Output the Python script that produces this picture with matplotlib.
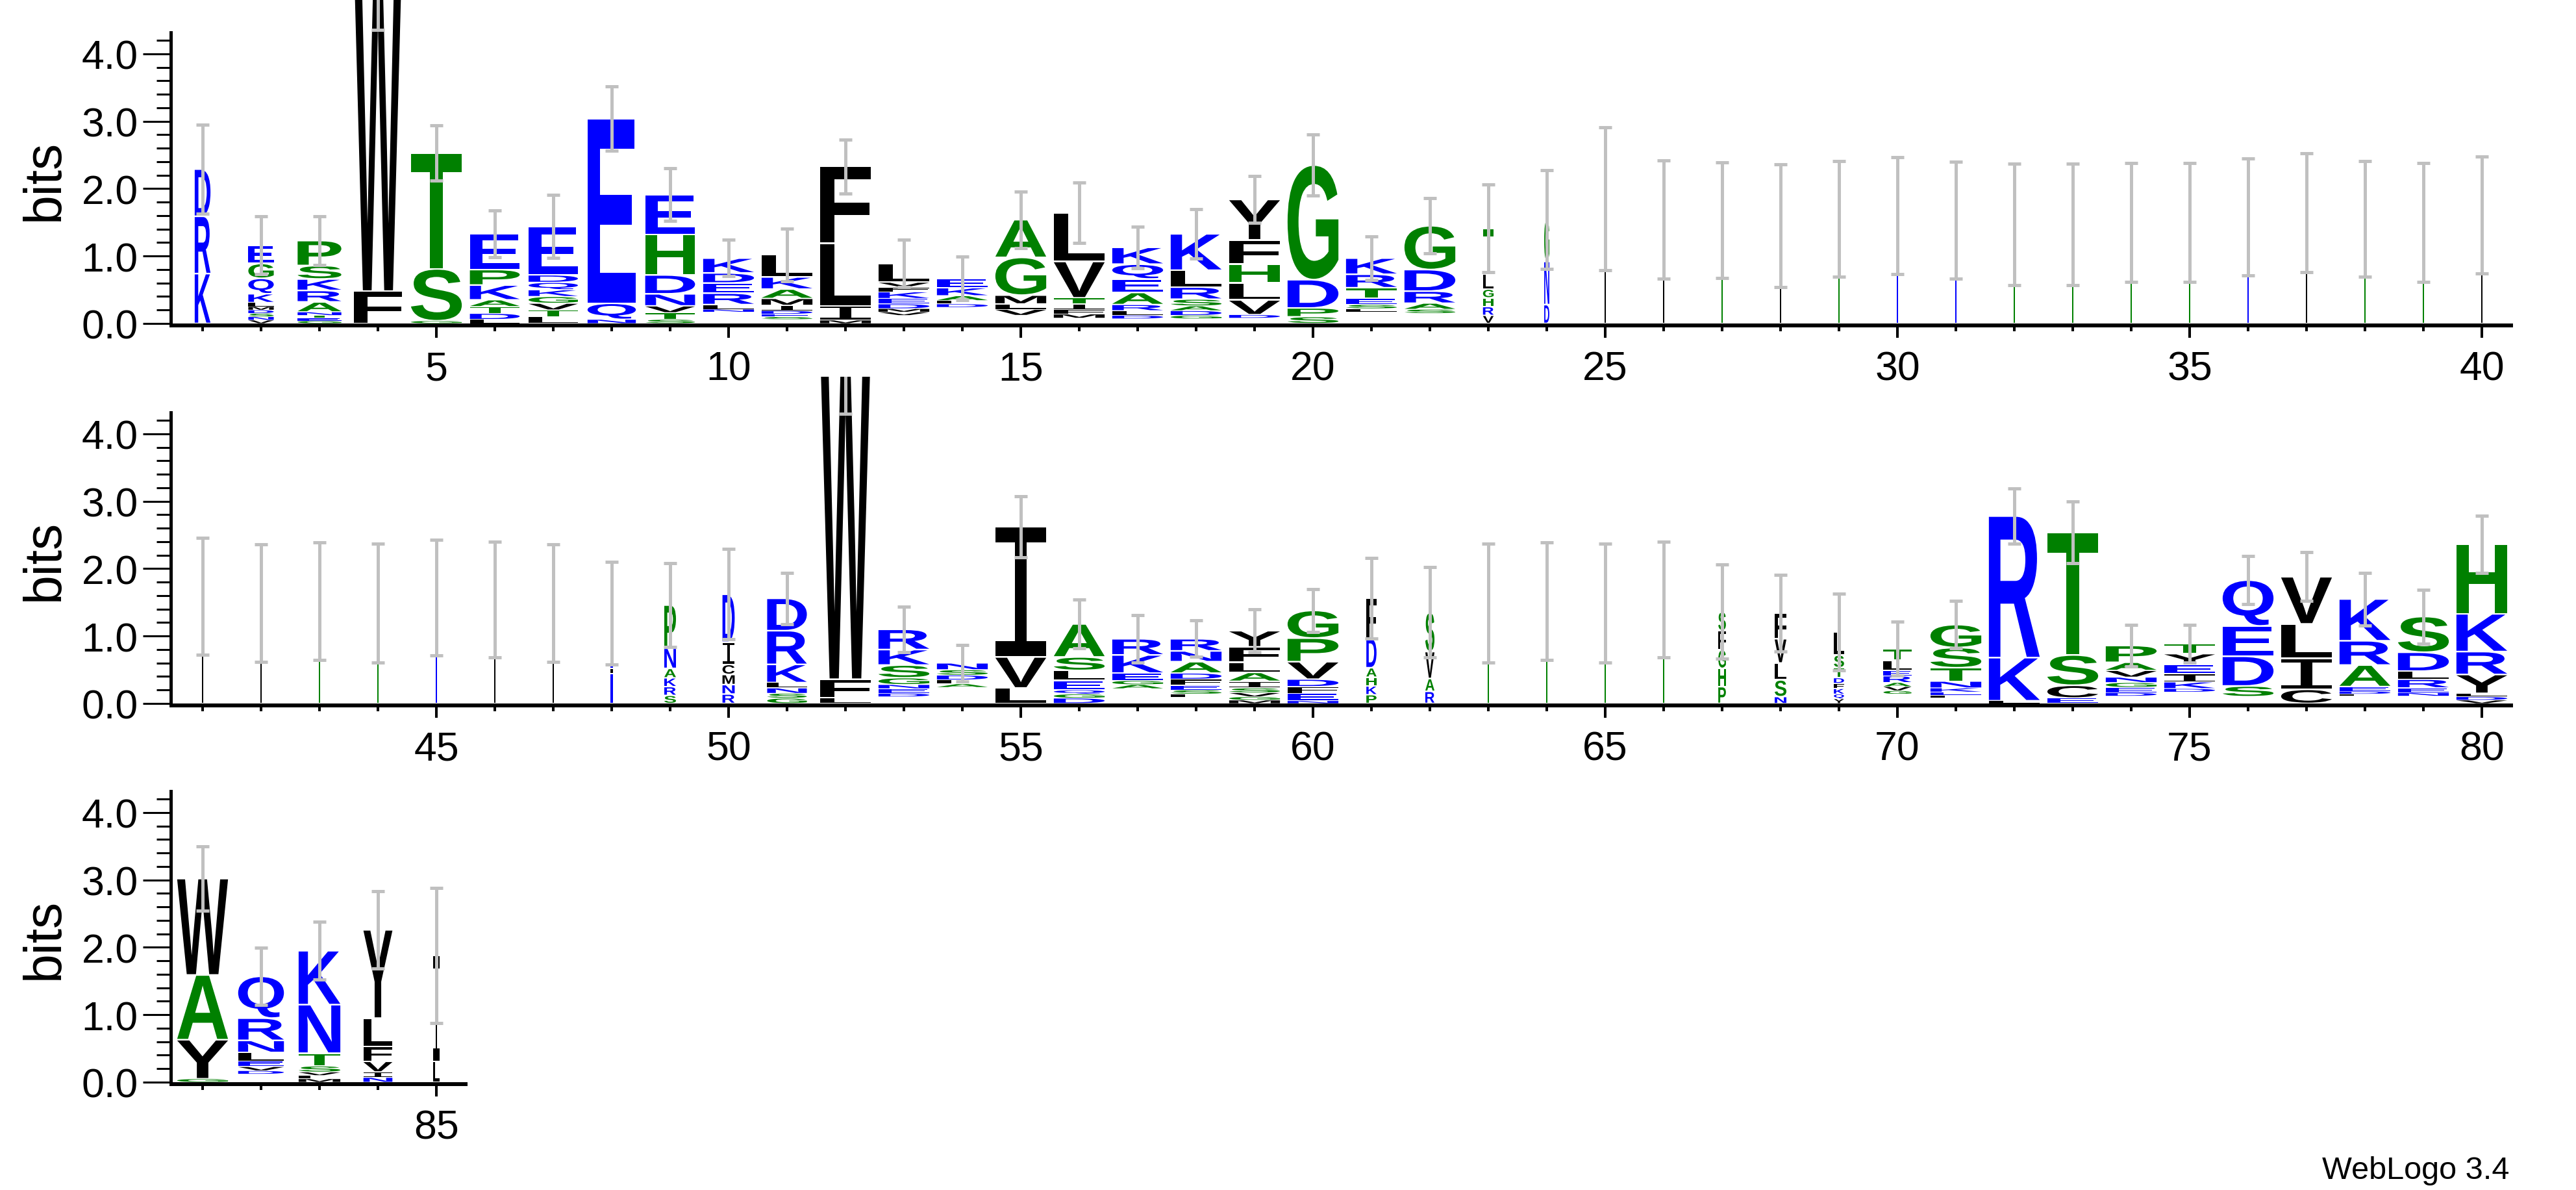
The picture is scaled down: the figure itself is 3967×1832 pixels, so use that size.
import matplotlib
matplotlib.use("Agg")
import matplotlib.pyplot as plt
from matplotlib.textpath import TextPath
from matplotlib.font_manager import FontProperties
from matplotlib.patches import PathPatch, Rectangle
from matplotlib.transforms import Affine2D
from matplotlib.ticker import FixedLocator

plt.rcParams['font.family'] = ['Liberation Sans', 'DejaVu Sans']

# ---- data: one column per position, letters listed bottom -> top, '-' = blank ----
positions = list(range(1, 86))

stack_letters = [
    "KRD", "VNSDMLKQGE", "GETNARKSP", "FW", "GST", "LDTAKPE", "LTVGKQDE", "NQE",
    "STVNDHE", "-NLREDK", "-SEDIMAKL", "MILF", "-VMDEKFVL", "-DLAKE", "-VLMGA",
    "-MFITVL", "-DLRAEQK", "-GDASRLK", "-DVLHFY", "SPDG", "-LSETRK", "-SARDG",
    "VRHGLT", "DNG", "L", "L", "G", "L", "G", "D", "D", "G", "G", "G", "G", "D",
    "L", "G", "G", "L",
    "L", "L", "G", "G", "D", "L", "L", "DLN", "SRKANP", "RNMCID", "GSNLKRD", "LFW",
    "-DENGSKR", "-ALDSN", "LVI", "DGQELSA", "-AGEKR", "-LSEFDANR", "MGVSIALFY",
    "NEFDVPG", "PKHADF", "RAVS", "G", "G", "G", "G", "PHGFS", "NSLVF", "YQKFDTSL",
    "-GVARELT", "-LEKNTSG", "LKR", "ECST", "-DEGNVAP", "-DKIEYT", "-SDEQ", "CILV",
    "-LDEARK", "-NERLDS", "VDLYRKH",
    "GYAW", "-DVELNRQ", "MLVSTNK", "NIVFLY", "LI",
]

stack_bits = [
    [0.74, 0.85, 0.70],
    [0.05, 0.05, 0.05, 0.05, 0.05, 0.06, 0.13, 0.23, 0.22, 0.27],
    [0.04, 0.04, 0.04, 0.05, 0.15, 0.17, 0.17, 0.20, 0.37],
    [0.48, 5.0],
    [0.04, 0.77, 1.72],
    [0.06, 0.09, 0.10, 0.10, 0.22, 0.23, 0.53],
    [0.10, 0.10, 0.10, 0.10, 0.10, 0.11, 0.11, 0.72],
    [0.06, 0.24, 2.74],
    [0.06, 0.10, 0.10, 0.18, 0.28, 0.60, 0.59],
    [0.17, 0.04, 0.07, 0.17, 0.15, 0.15, 0.22],
    [0.06, 0.04, 0.04, 0.05, 0.08, 0.10, 0.14, 0.18, 0.33],
    [0.05, 0.21, 0.93, 1.14],
    [0.12, 0.05, 0.05, 0.07, 0.08, 0.10, 0.07, 0.07, 0.28],
    [0.24, 0.05, 0.05, 0.07, 0.12, 0.14],
    [0.12, 0.09, 0.08, 0.13, 0.56, 0.56],
    [0.08, 0.06, 0.07, 0.08, 0.09, 0.54, 0.72],
    [0.07, 0.05, 0.07, 0.09, 0.18, 0.20, 0.22, 0.25],
    [0.07, 0.05, 0.07, 0.07, 0.10, 0.18, 0.25, 0.54],
    [0.08, 0.05, 0.22, 0.25, 0.28, 0.36, 0.60],
    [0.10, 0.13, 0.42, 1.70],
    [0.17, 0.05, 0.06, 0.09, 0.16, 0.20, 0.24],
    [0.15, 0.06, 0.09, 0.18, 0.32, 0.65],
    [0.12, 0.13, 0.13, 0.13, 0.22, 0.68],
    [0.28, 0.64, 0.62],
    [1.85], [1.54], [1.53], [1.45], [1.55], [1.60], [1.53], [1.47], [1.47],
    [1.50], [1.50], [1.58], [1.64], [1.55], [1.50], [1.61],
    [1.59], [1.49], [1.52], [1.49], [1.57], [1.54], [1.49],
    [0.45, 0.07, 0.82],
    [0.12, 0.13, 0.13, 0.14, 0.30, 0.64],
    [0.14, 0.14, 0.15, 0.15, 0.33, 0.71],
    [0.08, 0.07, 0.08, 0.08, 0.27, 0.50, 0.48],
    [0.08, 0.28, 5.0],
    [0.10, 0.05, 0.07, 0.06, 0.10, 0.19, 0.23, 0.30],
    [0.24, 0.05, 0.06, 0.07, 0.08, 0.10],
    [0.23, 0.46, 1.93],
    [0.08, 0.06, 0.06, 0.14, 0.15, 0.20, 0.49],
    [0.22, 0.06, 0.06, 0.11, 0.27, 0.24],
    [0.09, 0.05, 0.06, 0.07, 0.09, 0.09, 0.17, 0.16, 0.18],
    [0.05, 0.05, 0.06, 0.07, 0.10, 0.13, 0.15, 0.23, 0.24],
    [0.04, 0.11, 0.10, 0.11, 0.26, 0.35, 0.41],
    [0.13, 0.13, 0.13, 0.14, 0.44, 0.59],
    [0.18, 0.19, 0.40, 0.58],
    [1.49], [1.52], [1.49], [1.54],
    [0.25, 0.27, 0.28, 0.28, 0.28],
    [0.10, 0.25, 0.25, 0.36, 0.38],
    [0.07, 0.07, 0.08, 0.08, 0.08, 0.15, 0.19, 0.34],
    [0.14, 0.05, 0.06, 0.06, 0.10, 0.08, 0.15, 0.17],
    [0.08, 0.04, 0.05, 0.06, 0.10, 0.20, 0.30, 0.34],
    [0.04, 0.64, 2.10],
    [0.08, 0.19, 0.45, 1.82],
    [0.11, 0.05, 0.08, 0.07, 0.08, 0.10, 0.12, 0.25],
    [0.17, 0.05, 0.10, 0.12, 0.14, 0.16, 0.15],
    [0.10, 0.16, 0.44, 0.45, 0.68],
    [0.21, 0.46, 0.51, 0.70],
    [0.11, 0.03, 0.04, 0.07, 0.32, 0.36, 0.62],
    [0.11, 0.05, 0.07, 0.13, 0.12, 0.28, 0.53],
    [0.05, 0.05, 0.05, 0.28, 0.34, 0.56, 1.03],
    [0.05, 0.58, 0.96, 1.43],
    [0.12, 0.05, 0.06, 0.08, 0.13, 0.18, 0.33, 0.62],
    [0.05, 0.05, 0.05, 0.09, 0.19, 0.72, 0.80],
    [0.07, 0.08, 0.16, 0.22, 0.42, 1.31],
    [0.31, 1.57],
]

# fraction of full stack width (columns with many gaps are narrow)
col_width = (
    [0.31, 0.50, 0.86, 0.95, 1.0, 0.98, 0.97, 0.95, 0.98, 1.0,
     1.0, 1.0, 1.0, 1.0, 1.0, 1.0, 1.0, 1.0, 1.0, 1.0,
     1.0, 1.0, 0.21, 0.10] + [0.03] * 16 +
    [0.03] * 7 + [0.05, 0.23, 0.24, 0.78, 1.0, 1.0, 1.0, 1.0, 1.0,
                  1.0, 1.0, 1.0, 1.0, 0.20, 0.18, 0.03, 0.03, 0.03, 0.03,
                  0.15, 0.23, 0.20, 0.55, 1.0, 1.0, 1.0, 1.0, 1.0, 1.0,
                  1.0, 1.0, 1.0, 1.0] +
    [1.0, 0.90, 0.82, 0.57, 0.12]
)

err_half = [
    0.66, 0.43, 0.36, 1.13, 0.41, 0.35, 0.47, 0.48, 0.39, 0.27,
    0.39, 0.40, 0.35, 0.32, 0.42, 0.45, 0.31, 0.37, 0.35, 0.45,
    0.32, 0.41, 0.65, 0.73, 1.06, 0.88, 0.86, 0.91, 0.86, 0.87,
    0.87, 0.90, 0.90, 0.88, 0.88, 0.87, 0.88, 0.86, 0.88, 0.87,
    0.87, 0.87, 0.87, 0.88, 0.86, 0.86, 0.87, 0.76, 0.62, 0.67,
    0.38, 1.06, 0.34, 0.27, 0.45, 0.36, 0.35, 0.27, 0.32, 0.32,
    0.60, 0.67, 0.88, 0.87, 0.88, 0.86, 0.70, 0.57, 0.57, 0.40,
    0.35, 0.41, 0.46, 0.31, 0.28, 0.36, 0.36, 0.39, 0.40, 0.42,
    0.48, 0.42, 0.43, 0.57, 1.00,
]

row_ranges = [(1, 40), (41, 80), (81, 85)]

# ---- styling ----
colors = {}
for c in "RKDENQ":
    colors[c] = "#0000ff"
for c in "SGHTAP":
    colors[c] = "#008000"
for c in "YVMCLFIW":
    colors[c] = "#000000"

W_PX, H_PX = 3967, 1833
fig = plt.figure(figsize=(W_PX / 100, H_PX / 100), dpi=100)

bit_px = 103.8          # pixels per bit
pos_px = 90             # pixels per position
x0_px = 267
baselines = [499, 1084, 1667]
ymin, ymax = -0.03, 4.85
full_w = 0.87

fp = FontProperties(family='Liberation Sans', weight='bold')
fp_i = FontProperties(family='Liberation Mono', weight='normal')
cache = {}


def glyph(ch):
    if ch not in cache:
        p = TextPath((0, 0), ch, size=1, prop=fp_i if ch == 'I' else fp)
        cache[ch] = (p, p.get_extents())
    return cache[ch]


def draw_letter(ax, ch, x, y0, w, h):
    pad = min(0.012, h * 0.08)
    hh = h - 2 * pad
    if w * pos_px < 6:
        # too thin for a readable glyph: a solid sliver of the letter colour
        ax.add_patch(Rectangle((x - w / 2, y0 + pad), w, hh, facecolor=colors[ch],
                               edgecolor='none', lw=0, zorder=2))
        return
    p, ext = glyph(ch)
    t = (Affine2D().translate(-ext.x0, -ext.y0)
         .scale(w / ext.width, hh / ext.height)
         .translate(x - w / 2, y0 + pad))
    ax.add_patch(PathPatch(t.transform_path(p), facecolor=colors[ch],
                           edgecolor='none', lw=0, zorder=2))


for (first, last), base in zip(row_ranges, baselines):
    n = last - first + 1
    ax = fig.add_axes([x0_px / W_PX,
                       1 - (base - ymin * bit_px) / H_PX,
                       n * pos_px / W_PX,
                       (ymax - ymin) * bit_px / H_PX])
    ax.patch.set_visible(False)
    ax.set_xlim(first - 0.5, last + 0.5)
    ax.set_ylim(ymin, ymax)
    for s in ['top', 'right']:
        ax.spines[s].set_visible(False)
    ax.spines['left'].set_bounds(ymin, 4.32)
    ax.spines['left'].set_position(('outward', 3))
    ax.spines['left'].set_linewidth(3.6)
    ax.spines['bottom'].set_linewidth(4.3)

    ax.yaxis.set_major_locator(FixedLocator([0, 1, 2, 3, 4]))
    ax.set_yticklabels(['0.0', '1.0', '2.0', '3.0', '4.0'])
    ax.yaxis.set_minor_locator(FixedLocator([v / 10 for v in range(2, 43, 2) if v % 10]))
    ax.tick_params(axis='y', which='major', length=31, width=2.2, pad=5, labelsize=45)
    ax.tick_params(axis='y', which='minor', length=16, width=2.2)

    majors = [p for p in range(first, last + 1) if p % 5 == 0]
    ax.xaxis.set_major_locator(FixedLocator(majors))
    ax.set_xticklabels([str(p) for p in majors])
    ax.xaxis.set_minor_locator(FixedLocator(list(range(first, last + 1))))
    ax.tick_params(axis='x', which='major', length=14, width=2.9, pad=13, labelsize=45)
    ax.tick_params(axis='x', which='minor', length=6.5, width=2.9)

    xs, tops, errs = [], [], []
    for i, pos in enumerate(positions):
        if pos < first or pos > last:
            continue
        w = full_w * col_width[i]
        y = 0.0
        for ch, h in zip(stack_letters[i], stack_bits[i]):
            if ch != '-':
                draw_letter(ax, ch, pos, y, w, h)
            y += h
        xs.append(pos)
        tops.append(y)
        errs.append(err_half[i])
    ax.errorbar(xs, tops, yerr=errs, fmt='none', ecolor='#c0c0c0',
                elinewidth=3.6, capsize=7.5, capthick=3.6, zorder=5)

    fig.text(69 / W_PX, 1 - (base - 2.13 * bit_px) / H_PX, 'bits',
             rotation=90, ha='center', va='center', fontsize=58)

fig.text(3864 / W_PX, 1 - 1815 / H_PX, 'WebLogo 3.4', ha='right',
         va='baseline', fontsize=35)

fig.savefig('out.png', dpi=100, facecolor='white')
